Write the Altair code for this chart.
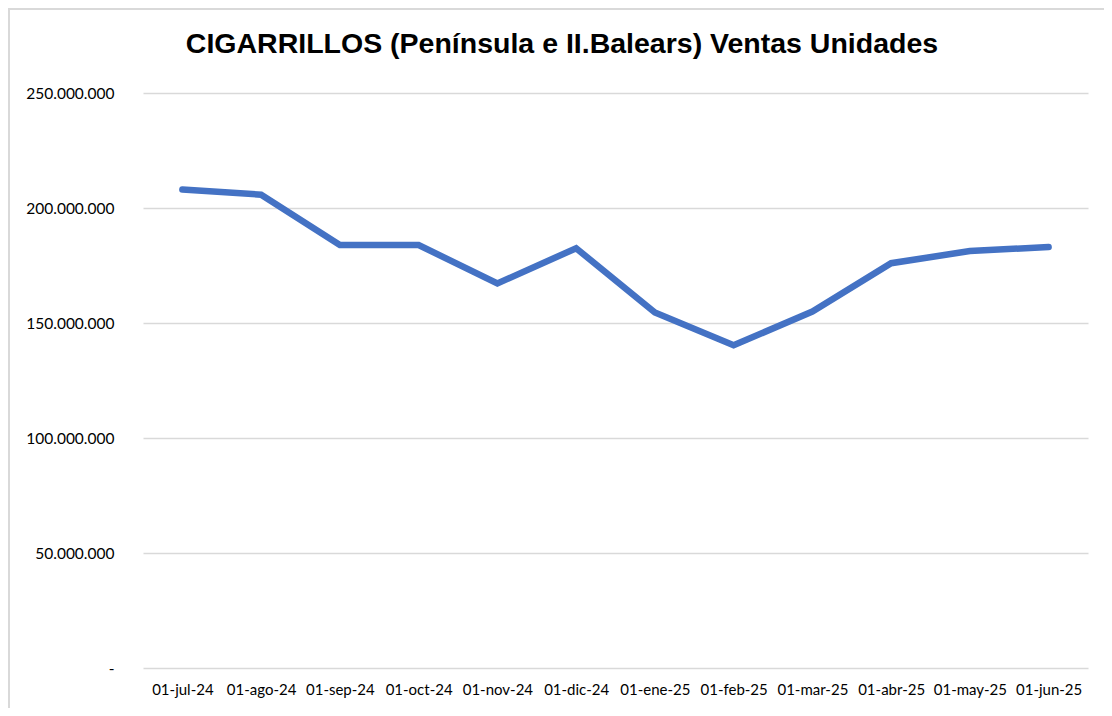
import altair as alt
import pandas as pd

months = ["01-jul-24", "01-ago-24", "01-sep-24", "01-oct-24", "01-nov-24", "01-dic-24",
          "01-ene-25", "01-feb-25", "01-mar-25", "01-abr-25", "01-may-25", "01-jun-25"]
ventas = [208_000_000, 205_800_000, 183_900_000, 183_900_000, 167_200_000, 182_500_000,
          154_600_000, 140_300_000, 155_000_000, 176_000_000, 181_300_000, 183_000_000]
y_ticks = [0, 50_000_000, 100_000_000, 150_000_000, 200_000_000, 250_000_000]
title_text = ["CIGARRILLOS (Península e II.Balears) Ventas Unidades"]

df = pd.DataFrame({"mes": months, "ventas": ventas})

W, H = 945, 575
label_expr = "datum.value == 0 ? '-' : replace(format(datum.value, ',.0f'), /,/g, '.')"

base = alt.Chart(df)

line = base.mark_line(color="#4472C4", strokeWidth=6.5, strokeCap="round", strokeJoin="miter").encode(
    x=alt.X("mes:N", sort=months,
            scale=alt.Scale(type="point", padding=0.5),
            axis=alt.Axis(title=None, labelAngle=0, ticks=False, domain=False, grid=False,
                          labelFont="Lato", labelFontSize=15, labelColor="#000000",
                          labelPadding=14)),
    y=alt.Y("ventas:Q", scale=alt.Scale(domain=[0, 250_000_000], nice=False),
            axis=alt.Axis(title=None, values=y_ticks, labelExpr=label_expr, ticks=False,
                          domain=False, grid=True, gridColor="#d9d9d9", gridWidth=1.5,
                          labelFont="Lato", labelFontSize=15.5, labelColor="#000000",
                          labelPadding=29)),
)

border = alt.Chart(pd.DataFrame({"a": [0]})).mark_rect(
    fill=None, stroke="#d9d9d9", strokeWidth=2
).encode(
    x=alt.value(-134), x2=alt.value(W + 60),
    y=alt.value(-84), y2=alt.value(H + 80),
)

title = alt.Chart(pd.DataFrame({"t": title_text})).mark_text(
    font="Liberation Sans", fontSize=28.5, fontWeight="bold", color="#000000",
    align="center", baseline="alphabetic"
).encode(
    text="t:N", x=alt.value(419), y=alt.value(-40),
)

chart = alt.layer(border, line, title).properties(
    width=W, height=H,
    padding={"left": 135, "top": 85, "right": 16, "bottom": 40},
    autosize=alt.AutoSizeParams(type="none"),
).configure_view(stroke=None)

chart.save("out.html", embed_options={"renderer": "svg", "actions": False})
